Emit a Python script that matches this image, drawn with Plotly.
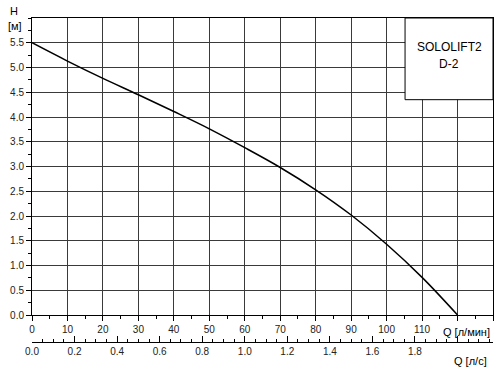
import plotly.graph_objects as go

# data
q_lmin = [0, 10, 20, 30, 40, 50, 60, 70, 80, 90, 100, 110, 120]
h_m = [5.5, 5.13, 4.78, 4.45, 4.11, 3.76, 3.38, 2.98, 2.53, 2.02, 1.43, 0.76, 0.0]
q_ls = [q / 60 for q in q_lmin]

x_tickvals = [0, 10, 20, 30, 40, 50, 60, 70, 80, 90, 100, 110, 120, 130]
x_ticktext = ["0", "10", "20", "30", "40", "50", "60", "70", "80", "90", "100", "110", "", ""]
x2_tickvals = [0.0, 0.2, 0.4, 0.6, 0.8, 1.0, 1.2, 1.4, 1.6, 1.8, 2.0]
x2_ticktext = ["0.0", "0.2", "0.4", "0.6", "0.8", "1.0", "1.2", "1.4", "1.6", "1.8", ""]
y_tickvals = [0.0, 0.5, 1.0, 1.5, 2.0, 2.5, 3.0, 3.5, 4.0, 4.5, 5.0, 5.5]
y_ticktext = ["0.0", "0.5", "1.0", "1.5", "2.0", "2.5", "3.0", "3.5", "4.0", "4.5", "5.0", "5.5"]

FONT = "Liberation Sans, Arial, sans-serif"
W, H = 502, 373
ml, mr, mt, mb = 32, 9, 18, 31
plot_w = W - ml - mr
plot_h = H - mt - mb
y0_px = 315
ydom0 = (H - mb - y0_px) / plot_h


def px_x(px):
    return (px - ml) / plot_w


def px_y(py):
    return (H - mb - py) / plot_h


fig = go.Figure()
fig.add_trace(go.Scatter(x=q_lmin, y=h_m, mode="lines", line=dict(color="black", width=1.5),
                         line_shape="spline", hoverinfo="skip", showlegend=False))
fig.add_trace(go.Scatter(x=q_ls, y=h_m, xaxis="x2", mode="lines", line=dict(width=0),
                         opacity=0, hoverinfo="skip", showlegend=False))

grid = "#3a3a3a"
fig.update_layout(
    width=W, height=H,
    margin=dict(l=ml, r=mr, t=mt, b=mb, autoexpand=False),
    paper_bgcolor="white", plot_bgcolor="white",
    font=dict(family=FONT, size=10, color="#222"),
    xaxis=dict(range=[0, 130], tickvals=x_tickvals, ticktext=x_ticktext, automargin=False,
               showgrid=True, gridcolor=grid, gridwidth=1,
               showline=True, linecolor="black", linewidth=1, mirror=True,
               ticks="outside", ticklen=5, tickcolor="black",
               minor=dict(dtick=5, ticklen=3, tickcolor="black", ticks="outside", showgrid=False),
               zeroline=False, anchor="y", fixedrange=True),
    yaxis=dict(range=[0, 6], tickvals=y_tickvals, ticktext=y_ticktext, domain=[ydom0, 1],
               automargin=False,
               showgrid=True, gridcolor=grid, gridwidth=1,
               showline=True, linecolor="black", linewidth=1, mirror=True,
               ticks="outside", ticklen=5, tickcolor="black",
               minor=dict(dtick=0.25, ticklen=3, tickcolor="black", ticks="outside", showgrid=False),
               zeroline=False, fixedrange=True),
    xaxis2=dict(range=[0, 130 / 60], overlaying="x", anchor="free", position=0, side="bottom",
                tickvals=x2_tickvals, ticktext=x2_ticktext, automargin=False,
                showgrid=False, showline=True, linecolor="black", linewidth=1,
                ticks="inside", ticklen=6, tickcolor="black",
                minor=dict(dtick=0.05, ticklen=3, tickcolor="black", ticks="inside", showgrid=False),
                zeroline=False, fixedrange=True),
)

# label box
fig.add_shape(type="rect", xref="x", yref="y", x0=105.2, x1=130, y0=4.35, y1=6,
              line=dict(color="black", width=1), fillcolor="white", layer="above")
fig.add_annotation(xref="x", yref="y", x=117.6, y=5.42, text="SOLOLIFT2", showarrow=False,
                   font=dict(size=12, color="black"))
fig.add_annotation(xref="x", yref="y", x=117.6, y=5.07, text="D-2", showarrow=False,
                   font=dict(size=12, color="black"))

# axis titles
fig.add_annotation(xref="paper", yref="paper", x=px_x(441), y=px_y(332), xanchor="left",
                   yanchor="middle", text="Q [л/мин]", showarrow=False,
                   font=dict(size=11, color="black"))
fig.add_annotation(xref="paper", yref="paper", x=px_x(452), y=px_y(361), xanchor="left",
                   yanchor="middle", text="Q [л/с]", showarrow=False,
                   font=dict(size=11, color="black"))
fig.add_annotation(xref="paper", yref="paper", x=px_x(14), y=px_y(11), xanchor="center",
                   yanchor="middle", text="H", showarrow=False,
                   font=dict(size=11, color="black"))
fig.add_annotation(xref="paper", yref="paper", x=px_x(15), y=px_y(26), xanchor="center",
                   yanchor="middle", text="[м]", showarrow=False,
                   font=dict(size=11, color="black"))

fig.write_html("out.html", config={"displayModeBar": False},
               post_script="document.body.style.margin='0px';document.body.style.overflow='hidden';")
